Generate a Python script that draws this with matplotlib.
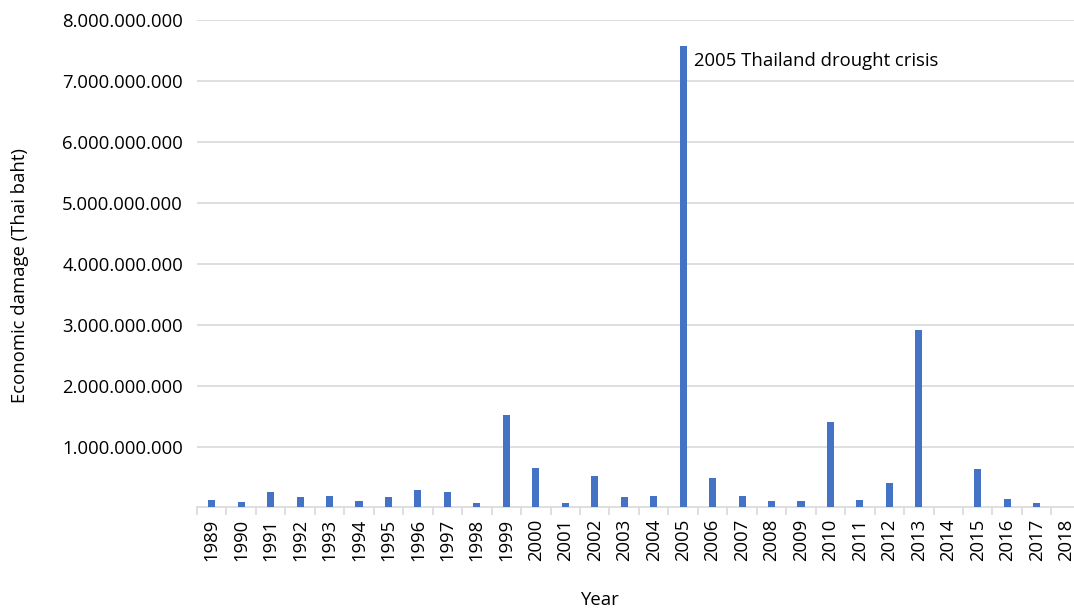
import numpy as np
import matplotlib.pyplot as plt
from matplotlib.ticker import FuncFormatter, FixedLocator

# Economic damage from drought per year (Thai baht)
years = list(range(1989, 2019))
damage = [
    0.12e9, 0.088e9, 0.26e9, 0.17e9, 0.19e9, 0.099e9, 0.17e9, 0.286e9, 0.25e9, 0.066e9,
    1.52e9, 0.64e9, 0.07e9, 0.51e9, 0.17e9, 0.19e9, 7.57e9, 0.49e9, 0.19e9, 0.10e9,
    0.10e9, 1.41e9, 0.126e9, 0.40e9, 2.92e9, 0.0, 0.63e9, 0.143e9, 0.07e9, 0.0,
]
y_ticks = [1e9, 2e9, 3e9, 4e9, 5e9, 6e9, 7e9, 8e9]
note = "2005 Thailand drought crisis"
note_year = 2005

plt.rcParams['font.family'] = ['Open Sans', 'DejaVu Sans']
fs = 13.3

fig = plt.figure(figsize=(10.74, 6.09), dpi=100)
ax = fig.add_axes([0.1834, 0.1667, 0.823, 0.8003])

x = np.arange(len(years))
ax.bar(x, damage, width=0.24, color='#4472C4', zorder=3)

ax.set_xlim(-0.5, len(years) - 0.5)
ax.set_ylim(0, 8e9)

# y axis: dotted thousands, gridlines, no tick marks
ax.yaxis.set_major_locator(FixedLocator(y_ticks))
ax.yaxis.set_major_formatter(FuncFormatter(lambda v, p: f"{int(v):,}".replace(",", ".")))
ax.tick_params(axis='y', length=0, pad=10, labelsize=fs, colors='#000000')
ax.grid(axis='y', color='#d9d9d9', linewidth=1.2, zorder=0)

# x axis: year labels centred, small tick marks between categories
ax.set_xticks(x)
ax.set_xticklabels([str(y) for y in years], rotation=90)
ax.set_xticks(np.arange(-0.5, len(years)), minor=True)
ax.tick_params(axis='x', which='major', length=0, pad=8, labelsize=fs)
ax.tick_params(axis='x', which='minor', length=6, width=1.2, color='#d9d9d9')

for side in ['top', 'right', 'left']:
    ax.spines[side].set_visible(False)
ax.spines['bottom'].set_color('#d9d9d9')
ax.spines['bottom'].set_linewidth(1.2)

ax.set_xlabel("Year", fontsize=fs)
ax.xaxis.set_label_coords(0.455, -0.172)
ax.set_ylabel("Economic damage (Thai baht)", fontsize=fs)
ax.yaxis.set_label_coords(-0.19, 0.475)

i = years.index(note_year)
ax.annotate(note, xy=(x[i], damage[i]), xytext=(8, -4), textcoords='offset points',
            ha='left', va='top', fontsize=fs)

fig.savefig('out.png', dpi=100)
